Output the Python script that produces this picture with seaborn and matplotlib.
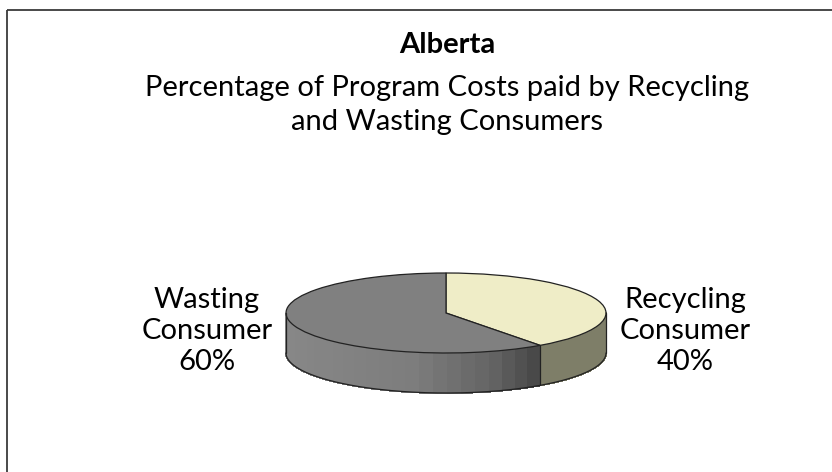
import numpy as np
import matplotlib
matplotlib.use("Agg")
import matplotlib.pyplot as plt
import seaborn as sns
from matplotlib.patches import Polygon, Rectangle

# Data
categories = ["Recycling Consumer", "Wasting Consumer"]
shares = [40, 60]
title = "Alberta"
subtitle = ["Percentage of Program Costs paid by Recycling", "and Wasting Consumers"]

top_colors = ["#EFEDC7", "#808080"]
side_color_recycling = "#7E7E68"

sns.set_theme(style="white")
plt.rcParams["font.family"] = ["Lato", "DejaVu Sans"]

W, H = 832, 472
fig = plt.figure(figsize=(W / 100, H / 100), dpi=100)
fig.patch.set_facecolor("white")

# Pixel-space overlay for frame and text
ov = fig.add_axes([0, 0, 1, 1])
ov.set_xlim(0, W)
ov.set_ylim(H, 0)
ov.axis("off")
ov.add_patch(Rectangle((7, 10), W + 20, H + 20, fill=False, edgecolor="#3a3a3a", lw=1.3))

fs = 21
tx = 447
ov.text(tx, 45, title, ha="center", va="center", fontsize=fs, fontweight="bold", color="black")
for i, line in enumerate(subtitle):
    ov.text(tx, 88 + 34 * i, line, ha="center", va="center", fontsize=fs, color="black")

# Pie axes: x unit = horizontal radius, y unit = vertical radius of tilted disc
cx, cy, a, b, depth_px = 446, 313, 160, 40, 40
pax = fig.add_axes([0, 0, 1, 1], zorder=2)
pax.patch.set_alpha(0)
depth = depth_px / b

wedges, _ = pax.pie(shares, colors=top_colors, startangle=90, counterclock=False,
                    wedgeprops=dict(edgecolor="#222222", linewidth=0.9))
for w in wedges:
    w.set_zorder(5)
pax.set_aspect("auto")
pax.set_xlim((0 - cx) / a, (W - cx) / a)
pax.set_ylim((cy - H) / b, cy / b)
pax.axis("off")

# Side walls of the disc from slice angles
frac = np.array(shares) / sum(shares)
starts = 90 - 360 * np.concatenate([[0], np.cumsum(frac)[:-1]])
ends = starts - 360 * frac


def wall(t0, t1, color, z=2):
    t = np.radians(np.linspace(t0, t1, 60))
    top = np.column_stack([np.cos(t), np.sin(t)])
    bot = np.column_stack([np.cos(t[::-1]), np.sin(t[::-1]) - depth])
    pax.add_patch(Polygon(np.vstack([top, bot]), closed=True, facecolor=color,
                          edgecolor=color, lw=0.8, zorder=z, antialiased=False))


for i, cat in enumerate(categories):
    # front half of the disc runs from 0 down to -180 degrees
    t0, t1 = starts[i], ends[i]
    hi = min(t0, 0.0)
    lo = max(t1, -180.0)
    if hi <= lo:
        continue
    if cat.startswith("Recycling"):
        wall(hi, lo, side_color_recycling)
    else:
        edges = np.linspace(lo, hi, 26)
        for k in range(len(edges) - 1):
            xm = np.cos(np.radians((edges[k] + edges[k + 1]) / 2))
            g = np.interp(xm, [-1, -0.2, 0.3, 0.59], [0.53, 0.49, 0.39, 0.27])
            wall(edges[k], edges[k + 1], (g, g, g))

# outlines of the walls
t = np.radians(np.linspace(-180, 0, 200))
pax.plot(np.cos(t), np.sin(t) - depth, color="#222222", lw=0.9, zorder=6)
pax.plot([-1, -1], [0, -depth], color="#222222", lw=0.9, zorder=6)
pax.plot([1, 1], [0, -depth], color="#222222", lw=0.9, zorder=6)
tb = np.radians(ends[0])
pax.plot([np.cos(tb)] * 2, [np.sin(tb), np.sin(tb) - depth], color="#222222", lw=0.9, zorder=6)

# Category labels
label_x = {"Recycling Consumer": 685, "Wasting Consumer": 207}
for cat, val in zip(categories, shares):
    lines = cat.split(" ") + [f"{val}%"]
    for j, ln in enumerate(lines):
        ov.text(label_x[cat], 300 + 31 * j, ln, ha="center", va="center", fontsize=fs, color="black")

fig.savefig("out.png", dpi=100, facecolor="white")
